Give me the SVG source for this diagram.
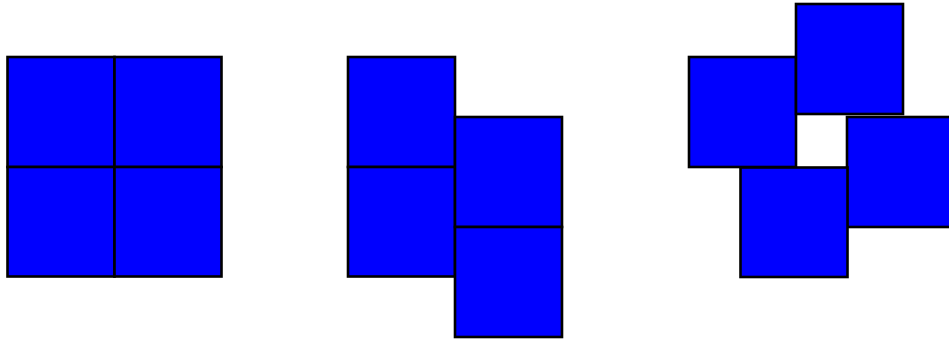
<svg xmlns="http://www.w3.org/2000/svg" width="949" height="343" viewBox="0 0 949 343">
<style>
.sq{fill:#0000ff;stroke:#000;stroke-width:2.6}
</style>
<rect width="949" height="343" fill="#fff"/>
<g id="grid">
<rect class="sq" x="7.5" y="57" width="107" height="110"/>
<rect class="sq" x="114.5" y="57" width="107" height="110"/>
<rect class="sq" x="7.5" y="167" width="107" height="109.5"/>
<rect class="sq" x="114.5" y="167" width="107" height="109.5"/>
</g>
<g id="shifted">
<rect class="sq" x="348" y="57" width="107" height="110"/>
<rect class="sq" x="348" y="167" width="107" height="109.5"/>
<rect class="sq" x="455" y="117" width="107" height="110"/>
<rect class="sq" x="455" y="227" width="107" height="110"/>
</g>
<g id="pinwheel">
<rect class="sq" x="689" y="57" width="107" height="110"/>
<rect class="sq" x="796" y="4" width="107" height="110"/>
<rect class="sq" x="847" y="117" width="107" height="110"/>
<rect class="sq" x="740.5" y="167.5" width="107" height="109.5"/>
</g>
</svg>
